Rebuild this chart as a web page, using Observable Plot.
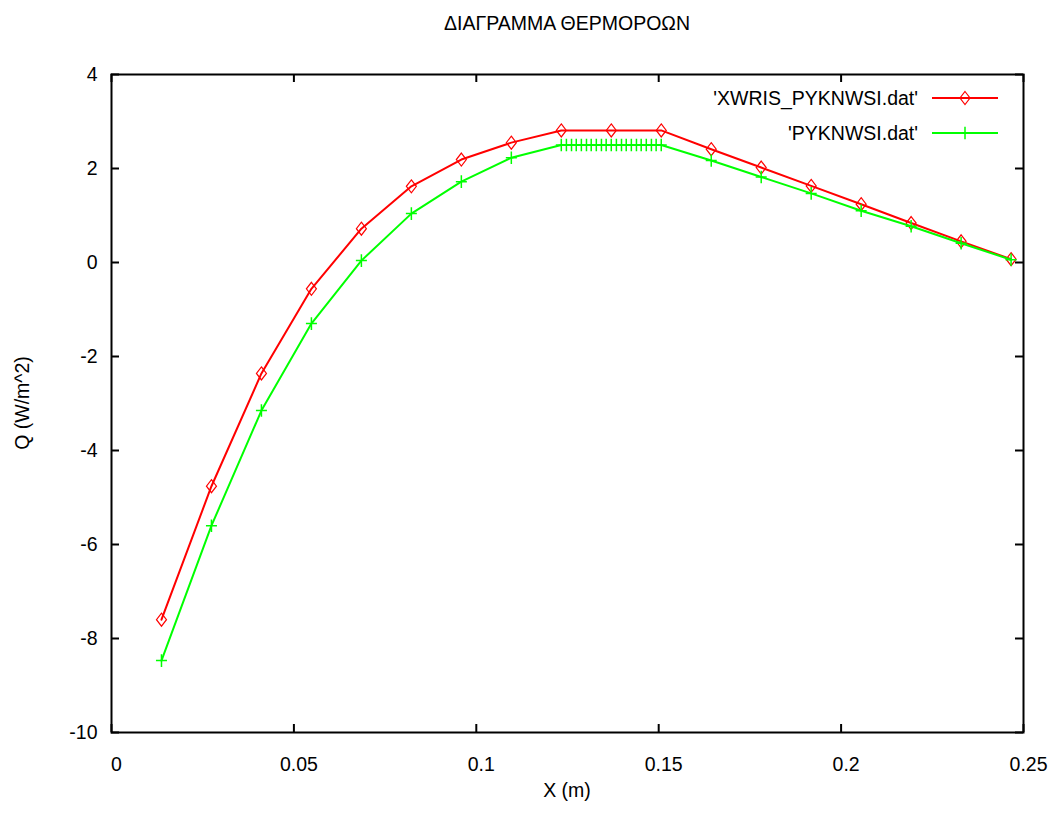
<!DOCTYPE html>
<html><head><meta charset="utf-8">
<script src="https://cdn.jsdelivr.net/npm/d3@7"></script>
<script src="https://cdn.jsdelivr.net/npm/@observablehq/plot@0.6"></script>
<style>
body{margin:0;background:#fff}
svg{font-family:"Liberation Sans",Arial,sans-serif}
</style>
</head><body><div id="chart"></div>
<script>
const titleText = "ΔΙΑΓΡΑΜΜΑ ΘΕΡΜΟΡΟΩΝ";
const xLabel = "X (m)";
const yLabel = "Q (W/m^2)";
const seriesNames = ["'XWRIS_PYKNWSI.dat'", "'PYKNWSI.dat'"];
const seriesColors = ["#ff0000", "#00ff00"];

const xRed = [0.0137,0.0274,0.0411,0.0548,0.0685,0.0822,0.0959,0.1096,0.1233,0.1370,0.1507,0.1644,0.1781,0.1918,0.2055,0.2192,0.2329,0.2466];
const yRed = [-7.6,-4.76,-2.36,-0.56,0.72,1.62,2.19,2.55,2.81,2.81,2.81,2.41,2.02,1.63,1.24,0.84,0.45,0.07];

const xGreen = [0.0137,0.0274,0.0411,0.0548,0.0685,0.0822,0.0959,0.1096,
  0.1233,0.1247,0.1261,0.1274,0.1288,0.1302,0.1315,0.1329,0.1343,0.1356,0.1370,0.1384,0.1398,0.1411,0.1425,0.1439,0.1452,0.1466,0.1480,0.1493,0.1507,
  0.1644,0.1781,0.1918,0.2055,0.2192,0.2329,0.2466];
const yGreen = [-8.47,-5.6,-3.15,-1.3,0.04,1.04,1.72,2.23,
  2.5,2.5,2.5,2.5,2.5,2.5,2.5,2.5,2.5,2.5,2.5,2.5,2.5,2.5,2.5,2.5,2.5,2.5,2.5,2.5,2.5,
  2.17,1.82,1.47,1.1,0.77,0.41,0.06];

const xTicks = [0,0.05,0.1,0.15,0.2,0.25];
const yTicks = [-10,-8,-6,-4,-2,0,2,4];

const red = xRed.map((x,i)=>({x, y:yRed[i]}));
const green = xGreen.map((x,i)=>({x, y:yGreen[i]}));

// gnuplot-like point shapes (slightly taller than wide)
const diamondSym = {draw(c){ const w = 5, h = 6.5; c.moveTo(0,-h); c.lineTo(w,0); c.lineTo(0,h); c.lineTo(-w,0); c.closePath(); }};
const plusSym = {draw(c){ const w = 5.5, h = 6.3; c.moveTo(-w,0); c.lineTo(w,0); c.moveTo(0,-h); c.lineTo(0,h); }};

const W = 1050, H = 828;
const mL = 111, mR = 27, mT = 74, mB = 96;
const pw = W - mL - mR, ph = H - mT - mB;
const tl = 8;
const fs = 19.5;

const chart = Plot.plot({
  width: W, height: H,
  marginLeft: mL, marginRight: mR, marginTop: mT, marginBottom: mB,
  style: {fontFamily: '"Liberation Sans",Arial,sans-serif', fontSize: fs + "px", background: "white", color: "black", overflow: "visible"},
  x: {domain: [0, 0.25]},
  y: {domain: [-10, 4]},
  marks: [
    Plot.axisX({ticks: xTicks, tickSize: 0, tickPadding: 25, dx: 5, tickFormat: d => String(d), label: null, fontSize: fs}),
    Plot.axisY({ticks: yTicks, tickSize: 0, tickPadding: 14, tickFormat: d => String(d), label: null, fontSize: fs}),
    Plot.tickX(xTicks, {x: d => d, insetTop: ph - tl, stroke: "black", strokeWidth: 2}),
    Plot.tickX(xTicks, {x: d => d, insetBottom: ph - tl, stroke: "black", strokeWidth: 2}),
    Plot.tickY(yTicks, {y: d => d, insetRight: pw - tl, stroke: "black", strokeWidth: 2}),
    Plot.tickY(yTicks, {y: d => d, insetLeft: pw - tl, stroke: "black", strokeWidth: 2}),
    Plot.frame({stroke: "black", strokeWidth: 2}),
    Plot.line(red, {x: "x", y: "y", stroke: seriesColors[0], strokeWidth: 2}),
    Plot.dot(red, {x: "x", y: "y", symbol: diamondSym, r: 5, stroke: seriesColors[0], strokeWidth: 1.2, fill: "none"}),
    Plot.line(green, {x: "x", y: "y", stroke: seriesColors[1], strokeWidth: 2}),
    Plot.dot(green, {x: "x", y: "y", symbol: plusSym, r: 5, stroke: seriesColors[1], strokeWidth: 1.5})
  ]
});

const svg = d3.select(chart);
svg.append("text").attr("x", mL + pw/2).attr("y", 23).attr("text-anchor", "middle").attr("dominant-baseline", "central")
  .attr("font-size", fs).text(titleText);
svg.append("text").attr("x", mL + pw/2).attr("y", 790).attr("text-anchor", "middle").attr("dominant-baseline", "central")
  .attr("font-size", fs).text(xLabel);
svg.append("text").attr("transform", `translate(22,${mT + ph/2}) rotate(-90)`).attr("text-anchor", "middle").attr("dominant-baseline", "central")
  .attr("font-size", fs).text(yLabel);

// legend
const legY = [98, 133];
const symbols = [d3.symbol(diamondSym), d3.symbol(plusSym)];
seriesNames.forEach((name, i) => {
  const g = svg.append("g");
  g.append("text").attr("x", 918).attr("y", legY[i]).attr("text-anchor", "end").attr("dominant-baseline", "central")
    .attr("font-size", fs).text(name);
  g.append("line").attr("x1", 932).attr("x2", 998).attr("y1", legY[i]).attr("y2", legY[i])
    .attr("stroke", seriesColors[i]).attr("stroke-width", 2);
  g.append("path").attr("d", symbols[i]()).attr("transform", `translate(965,${legY[i]})`)
    .attr("fill", "none").attr("stroke", seriesColors[i]).attr("stroke-width", i === 0 ? 1.2 : 1.5);
});

document.getElementById("chart").appendChild(chart);
</script>
</body></html>
